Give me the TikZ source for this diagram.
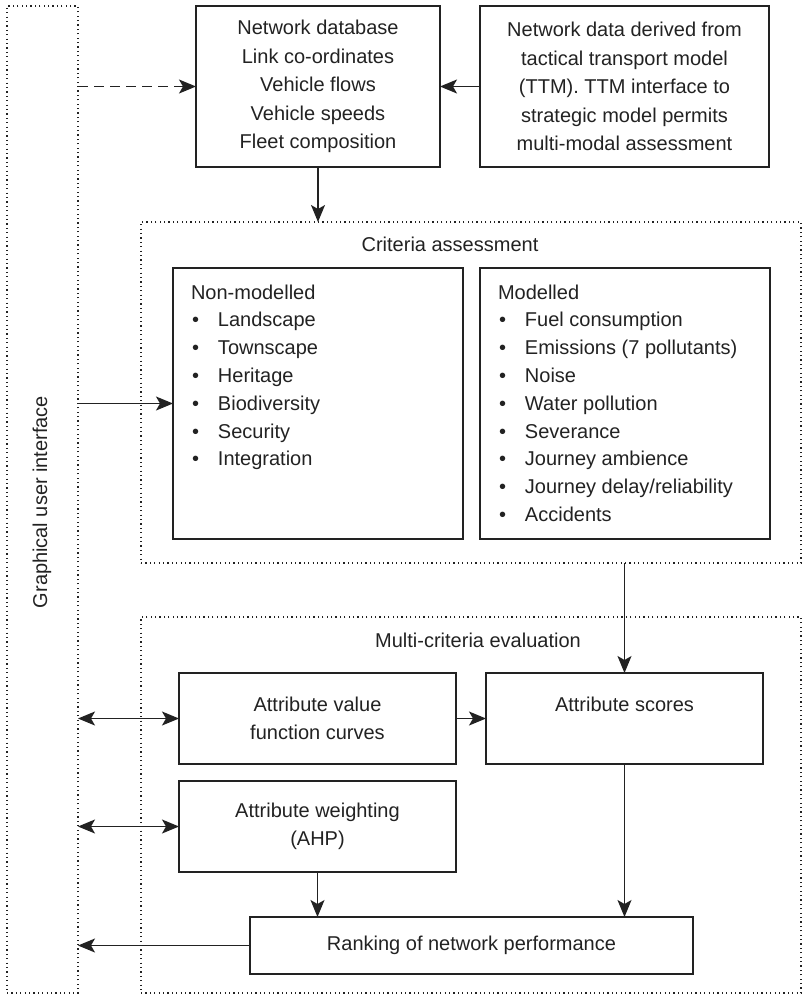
\documentclass[tikz,border=0pt]{standalone}
\usepackage{fontspec}
\setmainfont{Liberation Sans}
\usetikzlibrary{arrows.meta}
\definecolor{ink}{HTML}{222222}
\begin{document}
\begin{tikzpicture}[x=1pt,y=-1pt,
  font=\fontsize{20}{28.5}\selectfont,
  every node/.style={text=ink, inner sep=0pt, outer sep=0pt},
  box/.style={draw=ink, line width=1.4pt, align=center},
  group/.style={draw=ink, line width=1.2pt, dash pattern=on 1.2pt off 3.2pt},
  arr/.style={draw=ink, line width=1.3pt, -{Stealth[length=17pt,width=14pt,inset=4pt]}},
  darr/.style={draw=ink, line width=1.3pt, {Stealth[length=17pt,width=14pt,inset=4pt]}-{Stealth[length=17pt,width=14pt,inset=4pt]}},
  listtext/.style={anchor=north west, align=left, font=\fontsize{20}{27.8}\selectfont},
]
\useasboundingbox (0,0) rectangle (802,997);

% dotted containers
\node[group, minimum width=71pt, minimum height=987pt] (gui) at (42.5,499.5) {};
\node[rotate=90] (guilabel) at (42,502) {Graphical user interface};
\node[group, minimum width=660pt, minimum height=341pt] (crit) at (471,392.5) {};
\node (critlabel) at (450,244) {Criteria assessment};
\node[group, minimum width=660pt, minimum height=376pt] (mce) at (471,805) {};
\node (mcelabel) at (478,640) {Multi-criteria evaluation};

% input boxes
\node[box, minimum width=244pt, minimum height=161pt] (ndb) at (318,86.5)
  {Network database\\Link co-ordinates\\Vehicle flows\\Vehicle speeds\\Fleet composition};
\node[box, minimum width=289pt, minimum height=161pt] (ndata) at (624.5,86.5)
  {Network data derived from\\tactical transport model\\(TTM). TTM interface to\\strategic model permits\\multi-modal assessment};

% criteria boxes
\node[box, minimum width=290pt, minimum height=271pt] (nonmod) at (318,403.5) {};
\node[box, minimum width=290pt, minimum height=271pt] (mod) at (625,403.5) {};
\newcommand{\itm}{\hspace*{1pt}\makebox[26pt][l]{\textbullet}}
\node[listtext] (nonmodlist) at (191,284.5)
  {Non-modelled\\\itm Landscape\\\itm Townscape\\\itm Heritage\\\itm Biodiversity\\\itm Security\\\itm Integration};
\node[listtext] (modlist) at (498,284.5)
  {Modelled\\\itm Fuel consumption\\\itm Emissions (7 pollutants)\\\itm Noise\\\itm Water pollution\\\itm Severance\\\itm Journey ambience\\\itm Journey delay/reliability\\\itm Accidents};

% evaluation boxes
\node[box, minimum width=277pt, minimum height=91pt] (avf) at (317.5,718.5) {Attribute value\\function curves};
\node[box, minimum width=277pt, minimum height=91pt] (scores) at (624.5,718.5) {Attribute scores\\\mbox{}};
\node[box, minimum width=277pt, minimum height=91pt] (weight) at (317.5,826.5) {Attribute weighting\\(AHP)};
\node[box, minimum width=443pt, minimum height=57pt] (rank) at (471.5,945.5) {Ranking of network performance};

% connectors
\draw[arr, dash pattern=on 10pt off 6pt] (gui.east |- ndb) -- (ndb.west);
\draw[arr] (ndata.west) -- (ndb.east);
\draw[arr] (ndb.south) -- (ndb.south |- crit.north);
\draw[arr] (gui.east |- nonmod) -- (nonmod.west);
\draw[arr] (scores.north |- crit.south) -- (scores.north);
\draw[arr] (avf.east) -- (scores.west);
\draw[darr] (gui.east |- avf) -- (avf.west);
\draw[darr] (gui.east |- weight) -- (weight.west);
\draw[arr] (weight.south) -- (weight.south |- rank.north);
\draw[arr] (scores.south) -- (scores.south |- rank.north);
\draw[arr] (rank.west) -- (gui.east |- rank);
\end{tikzpicture}
\end{document}
